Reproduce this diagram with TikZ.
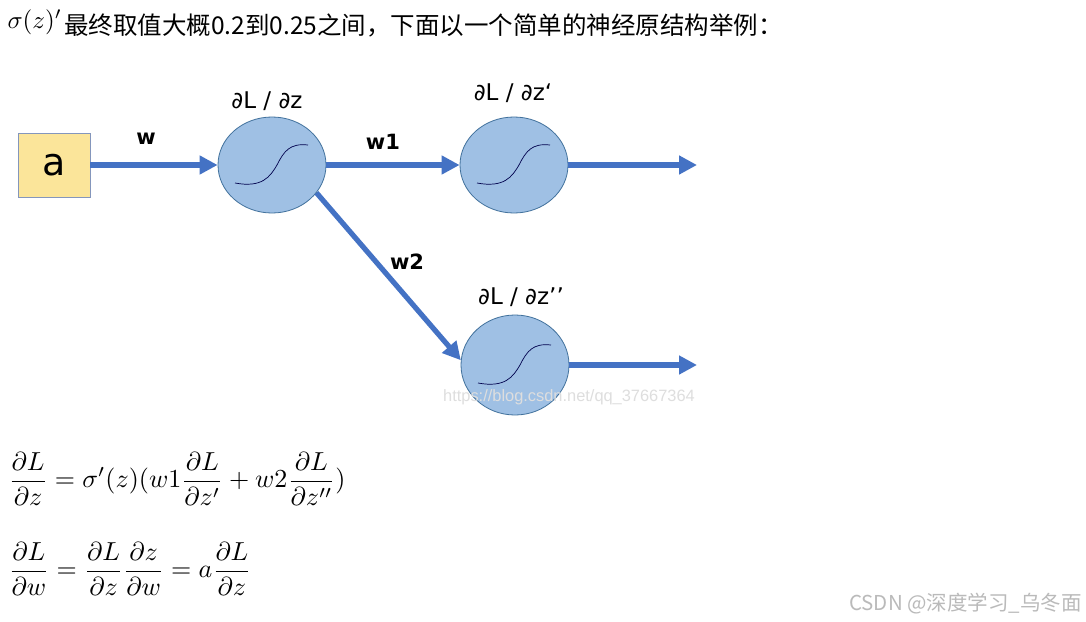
\documentclass[tikz,border=0pt]{standalone}
\usepackage[no-math]{fontspec}
\setmainfont{DejaVu Sans}
\newfontfamily\cjk{Noto Sans CJK SC}
\newfontfamily\arialf{Liberation Sans}
\usetikzlibrary{shapes.geometric,arrows.meta}
\definecolor{arrowblue}{HTML}{4472C4}
\definecolor{nodefill}{HTML}{9FC0E4}
\definecolor{nodeline}{HTML}{41719C}
\definecolor{boxfill}{HTML}{FBE59A}
\definecolor{boxline}{HTML}{8496BC}
\tikzset{
  neuron/.style={ellipse,draw=nodeline,fill=nodefill,line width=0.8pt,minimum width=108pt,minimum height=96pt,inner sep=0pt},
  inbox/.style={rectangle,draw=boxline,fill=boxfill,line width=0.8pt,minimum width=72pt,minimum height=64pt,inner sep=0pt,font=\fontsize{38}{40}\selectfont},
  conn/.style={draw=arrowblue,line width=5.2pt,-{Triangle[length=18pt,width=18pt]}},
  wlabel/.style={font=\fontsize{21}{25}\selectfont\bfseries},
  dlabel/.style={font=\fontsize{23}{27}\selectfont},
  sigline/.style={draw=black!70!blue,line width=0.7pt},
}
\begin{document}
\begin{tikzpicture}[x=1pt,y=-1pt]
\useasboundingbox[fill=white] (0,0) rectangle (1086,621);
% header
\node[anchor=west,inner sep=0pt,scale=2.5] (sig) at (7,22) {$\sigma(z)'$};
\node[anchor=west,inner sep=0pt,font=\cjk\fontsize{24.5}{28}\selectfont] (head) at (64,25) {最终取值大概0.2到0.25之间，下面以一个简单的神经原结构举例：};
% diagram
\node[inbox] (a) at (54,165) {a};
\node[neuron] (c1) at (272,165) {};
\node[neuron] (c2) at (514,165) {};
\node[neuron,minimum height=100pt] (c3) at (515,365) {};
\coordinate (o2) at (697,165);
\coordinate (o3) at (697,365);
\draw[conn] (a.east) -- (c1.west);
\draw[conn] (c1.east) -- (c2.west);
\draw[conn] (c1.-32) -- (c3.175);
\draw[conn] (c2.east) -- (o2);
\draw[conn] (c3.east) -- (o3);
\foreach \c in {c1,c2,c3}{
  \draw[sigline,shift={(\c)}] (-37,18) .. controls (-10,23) and (-2,12) .. (5,0) .. controls (12,-14) and (18,-22) .. (36,-20);
}
\node[wlabel] (lw) at (146,139) {w};
\node[wlabel] (lw1) at (383,142) {w1};
\node[wlabel] (lw2) at (407,262) {w2};
\node[dlabel] (d1) at (267,101) {∂L / ∂z};
\node[dlabel] (d2) at (513,93) {∂L / ∂z‘};
\node[dlabel] (d3) at (521,297) {∂L / ∂z’’};
\node[font=\arialf\fontsize{16.4}{19}\selectfont,text=black!13] (wm) at (569,397) {https://blog.csdn.net/qq\_37667364};
% equations
\node[anchor=west,inner sep=0pt,scale=2.6] (eq1) at (8,479) {$\displaystyle \frac{\partial L}{\partial z}=\sigma'(z)(w1\frac{\partial L}{\partial z'}+w2\frac{\partial L}{\partial z''})$};
\node[anchor=west,inner sep=0pt,scale=2.6] (eq2) at (8,569) {$\displaystyle \frac{\partial L}{\partial w}=\frac{\partial L}{\partial z}\frac{\partial z}{\partial w}=a\frac{\partial L}{\partial z}$};
\node[anchor=east,inner sep=0pt,font=\cjk\fontsize{20.5}{24}\selectfont,text=black!27] (csdn) at (1082,604) {CSDN @深度学习\_乌冬面};
\end{tikzpicture}
\end{document}
